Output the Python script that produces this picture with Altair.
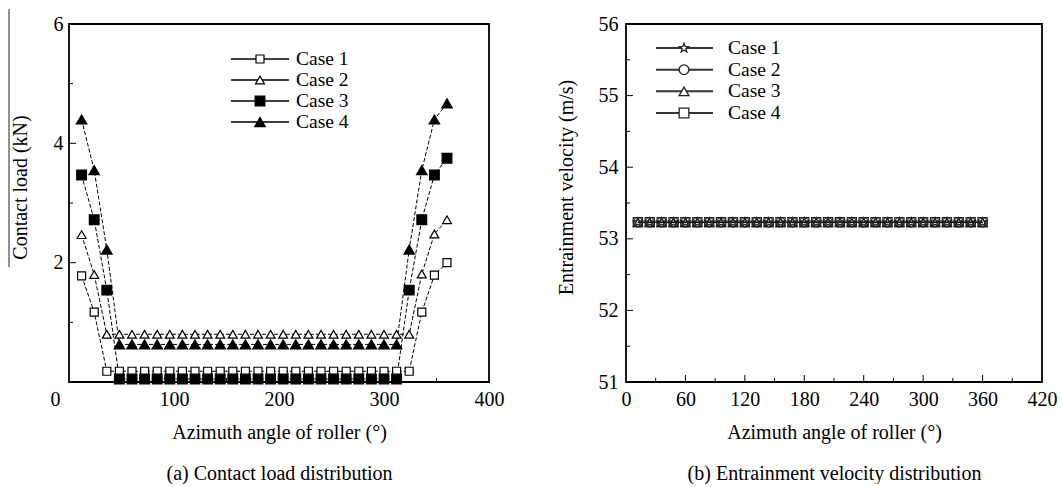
import altair as alt
import pandas as pd

FONT = "Liberation Serif"

cases = ["Case 1", "Case 2", "Case 3", "Case 4"]
angles = [12, 24, 36, 48, 60, 72, 84, 96, 108, 120, 132, 144, 156, 168, 180,
          192, 204, 216, 228, 240, 252, 264, 276, 288, 300, 312, 324, 336, 348, 360]

load_case1 = [1.78, 1.17, 0.18, 0.18, 0.18, 0.18, 0.18, 0.18, 0.18, 0.18, 0.18, 0.18, 0.18, 0.18, 0.18,
              0.18, 0.18, 0.18, 0.18, 0.18, 0.18, 0.18, 0.18, 0.18, 0.18, 0.18, 0.18, 1.17, 1.79, 2.00]
load_case2 = [2.47, 1.80, 0.80, 0.80, 0.80, 0.80, 0.80, 0.80, 0.80, 0.80, 0.80, 0.80, 0.80, 0.80, 0.80,
              0.80, 0.80, 0.80, 0.80, 0.80, 0.80, 0.80, 0.80, 0.80, 0.80, 0.80, 0.80, 1.81, 2.48, 2.72]
load_case3 = [3.47, 2.72, 1.54, 0.05, 0.05, 0.05, 0.05, 0.05, 0.05, 0.05, 0.05, 0.05, 0.05, 0.05, 0.05,
              0.05, 0.05, 0.05, 0.05, 0.05, 0.05, 0.05, 0.05, 0.05, 0.05, 0.05, 1.54, 2.72, 3.47, 3.75]
load_case4 = [4.40, 3.55, 2.22, 0.63, 0.63, 0.63, 0.63, 0.63, 0.63, 0.63, 0.63, 0.63, 0.63, 0.63, 0.63,
              0.63, 0.63, 0.63, 0.63, 0.63, 0.63, 0.63, 0.63, 0.63, 0.63, 0.63, 2.22, 3.55, 4.40, 4.67]

vel_case1 = [53.23, 53.23, 53.23, 53.23, 53.23, 53.23, 53.23, 53.23, 53.23, 53.23, 53.23, 53.23, 53.23, 53.23, 53.23,
             53.23, 53.23, 53.23, 53.23, 53.23, 53.23, 53.23, 53.23, 53.23, 53.23, 53.23, 53.23, 53.23, 53.23, 53.23]
vel_case2 = [53.23, 53.23, 53.23, 53.23, 53.23, 53.23, 53.23, 53.23, 53.23, 53.23, 53.23, 53.23, 53.23, 53.23, 53.23,
             53.23, 53.23, 53.23, 53.23, 53.23, 53.23, 53.23, 53.23, 53.23, 53.23, 53.23, 53.23, 53.23, 53.23, 53.23]
vel_case3 = [53.23, 53.23, 53.23, 53.23, 53.23, 53.23, 53.23, 53.23, 53.23, 53.23, 53.23, 53.23, 53.23, 53.23, 53.23,
             53.23, 53.23, 53.23, 53.23, 53.23, 53.23, 53.23, 53.23, 53.23, 53.23, 53.23, 53.23, 53.23, 53.23, 53.23]
vel_case4 = [53.23, 53.23, 53.23, 53.23, 53.23, 53.23, 53.23, 53.23, 53.23, 53.23, 53.23, 53.23, 53.23, 53.23, 53.23,
             53.23, 53.23, 53.23, 53.23, 53.23, 53.23, 53.23, 53.23, 53.23, 53.23, 53.23, 53.23, 53.23, 53.23, 53.23]

left_x_labels = [0, 100, 200, 300, 400]
left_x_minor = [50, 150, 250, 350]
left_x_major = [100, 200, 300]
left_y_labels = [2, 4, 6]
left_y_major = [2, 4]
left_y_minor = [1, 3, 5]

right_x_labels = [0, 60, 120, 180, 240, 300, 360, 420]
right_x_major = [60, 120, 180, 240, 300, 360]
right_x_minor = [30, 90, 150, 210, 270, 330, 390]
right_y_labels = [51, 52, 53, 54, 55, 56]
right_y_major = [52, 53, 54, 55]
right_y_minor = [51.5, 52.5, 53.5, 54.5, 55.5]

STAR = ("M0,-1L0.235,-0.324L0.951,-0.309L0.380,0.124L0.588,0.809L0,0.4"
        "L-0.588,0.809L-0.380,0.124L-0.951,-0.309L-0.235,-0.324Z")


def to_long(series):
    rows = []
    for c, vals in zip(cases, series):
        for a, v in zip(angles, vals):
            rows.append({"angle": a, "value": v, "case": c})
    return pd.DataFrame(rows)


left_df = to_long([load_case1, load_case2, load_case3, load_case4])
right_df = to_long([vel_case1, vel_case2, vel_case3, vel_case4])
legend_df = pd.DataFrame({"case": cases})

W1, W2, H = 420, 416, 358
MAJ, MIN = 7, 4


def tick_layers(xmaj, xmin, ymaj, ymin):
    out = []
    for vals, ln in ((xmaj, MAJ), (xmin, MIN)):
        out.append(alt.Chart(pd.DataFrame({"angle": vals})).mark_rule(color="black", strokeWidth=1).encode(
            x=alt.X("angle:Q"), y=alt.value(H), y2=alt.value(H - ln)))
    for vals, ln in ((ymaj, MAJ), (ymin, MIN)):
        out.append(alt.Chart(pd.DataFrame({"value": vals})).mark_rule(color="black", strokeWidth=1).encode(
            y=alt.Y("value:Q"), x=alt.value(0), x2=alt.value(ln)))
    return out


# ---------------- left panel ----------------
lx = alt.X("angle:Q", scale=alt.Scale(domain=[0, 400], nice=False, zero=False),
           axis=alt.Axis(values=left_x_labels, format="d",
                         title=["Azimuth angle of roller (°)", "(a) Contact load distribution"],
                         labelPadding=7, titlePadding=13, titleLineHeight=41,
                         labelOffset={"condition": {"test": "datum.value === 0", "value": -14}, "value": 0}))
ly = alt.Y("value:Q", scale=alt.Scale(domain=[0, 6], nice=False, zero=False),
           axis=alt.Axis(values=left_y_labels, format="d", title="Contact load (kN)", labelPadding=6,
                         titlePadding=23, titleY=163))

left_shape = alt.Shape("case:N", scale=alt.Scale(domain=cases, range=["square", "triangle-up", "square", "triangle-up"]), legend=None)
left_fill = alt.Fill("case:N", scale=alt.Scale(domain=cases, range=["white", "white", "black", "black"]), legend=None)
left_size = alt.Size("case:N", scale=alt.Scale(domain=cases, range=[64, 110, 80, 120]), legend=None)

l_lines = alt.Chart(left_df).mark_line(color="black", strokeWidth=1, strokeDash=[4, 2]).encode(
    x=lx, y=ly, detail="case:N")
l_pts = alt.Chart(left_df).mark_point(filled=True, stroke="black", strokeWidth=1.2, opacity=1).encode(
    x="angle:Q", y="value:Q", shape=left_shape, fill=left_fill, size=left_size)
l_art = alt.Chart(pd.DataFrame({"k": [0]})).mark_rule(color="#222", strokeWidth=1).encode(
    x=alt.value(-60), y=alt.value(-15), y2=alt.value(243))

l_main = alt.layer(l_lines, l_pts, *tick_layers(left_x_major, left_x_minor, left_y_major, left_y_minor), l_art)

lleg_y = alt.Y("case:N", scale=alt.Scale(type="point", domain=cases, range=[35, 98], padding=0), axis=None)
l_leg = alt.layer(
    alt.Chart(legend_df).mark_rule(color="black", strokeWidth=1.5).encode(
        x=alt.value(162), x2=alt.value(220), y=lleg_y),
    alt.Chart(legend_df).mark_point(filled=True, stroke="black", strokeWidth=1.2, opacity=1).encode(
        x=alt.value(191), y=lleg_y, shape=left_shape, fill=left_fill, size=left_size),
    alt.Chart(legend_df).mark_text(align="left", baseline="middle", font=FONT, fontSize=19.5, color="black").encode(
        x=alt.value(227), y=lleg_y, text="case:N"),
)

left = alt.layer(l_main, l_leg).resolve_scale(y="independent").properties(width=W1, height=H)

# ---------------- right panel ----------------
rx = alt.X("angle:Q", scale=alt.Scale(domain=[0, 420], nice=False, zero=False),
           axis=alt.Axis(values=right_x_labels, format="d",
                         title=["Azimuth angle of roller (°)", "(b) Entrainment velocity distribution"],
                         labelPadding=7, titlePadding=13, titleLineHeight=41))
ry = alt.Y("value:Q", scale=alt.Scale(domain=[51, 56], nice=False, zero=False),
           axis=alt.Axis(values=right_y_labels, format="d", title="Entrainment velocity (m/s)", labelPadding=8,
                         titlePadding=22, titleY=163))

right_shape = alt.Shape("case:N", scale=alt.Scale(domain=cases, range=[STAR, "circle", "triangle-up", "square"]), legend=None)

r_lines = alt.Chart(right_df).mark_line(color="black", strokeWidth=1).encode(x=rx, y=ry, detail="case:N")
r_pts = alt.Chart(right_df).mark_point(filled=False, color="#222", strokeWidth=1.2, opacity=1, size=85).encode(
    x="angle:Q", y="value:Q", shape=right_shape)
r_main = alt.layer(r_lines, r_pts, *tick_layers(right_x_major, right_x_minor, right_y_major, right_y_minor))

rleg_y = alt.Y("case:N", scale=alt.Scale(type="point", domain=cases, range=[24, 89], padding=0), axis=None)
r_leg = alt.layer(
    alt.Chart(legend_df).mark_rule(color="#333", strokeWidth=2).encode(
        x=alt.value(30), x2=alt.value(87), y=rleg_y),
    alt.Chart(legend_df).mark_point(filled=True, fill="white", stroke="#222", strokeWidth=1.3, opacity=1, size=95).encode(
        x=alt.value(58), y=rleg_y, shape=right_shape),
    alt.Chart(legend_df).mark_text(align="left", baseline="middle", font=FONT, fontSize=19.5, color="black").encode(
        x=alt.value(102), y=rleg_y, text="case:N"),
)

right = alt.layer(r_main, r_leg).resolve_scale(y="independent").properties(width=W2, height=H)

chart = alt.hconcat(left, right, spacing=137, bounds="flush").resolve_scale(
    x="independent", y="independent", shape="independent", fill="independent", size="independent"
).configure_view(stroke="black", strokeWidth=1.8).configure_axis(
    labelFont=FONT, labelFontSize=20, labelColor="black",
    titleFont=FONT, titleFontSize=20, titleFontWeight="normal", titleColor="black",
    ticks=False, tickSize=0, domain=False, grid=False, labelFlush=False, labelOverlap=False
).properties(padding={"left": 7, "top": 7, "right": 0, "bottom": 0}, background="white")

chart.save("out.html", embed_options={"renderer": "svg", "actions": False})
